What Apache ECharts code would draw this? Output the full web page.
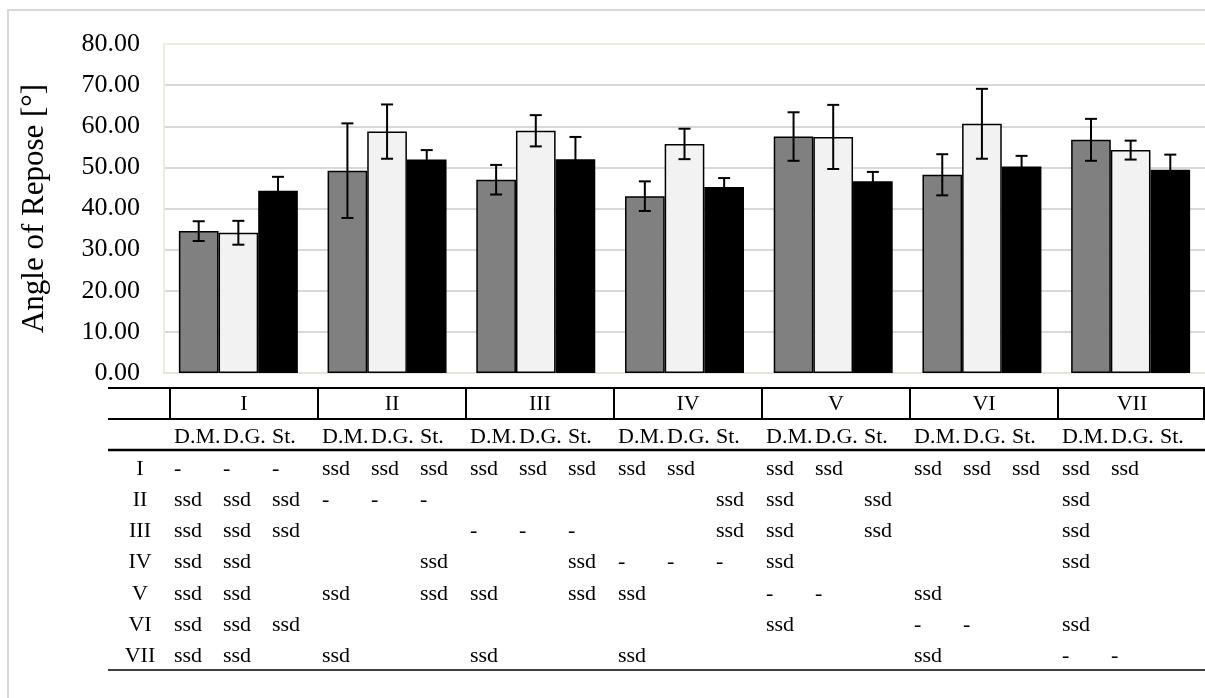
<!DOCTYPE html>
<html>
<head>
<meta charset="utf-8">
<script src="https://cdn.jsdelivr.net/npm/echarts@6/dist/echarts.min.js"></script>
<style>
html, body { margin: 0; padding: 0; background: #fff; }
#chart { width: 1205px; height: 698px; }
</style>
</head>
<body>
<div id="chart"></div>
<script>
// chart data
const groups = ['I', 'II', 'III', 'IV', 'V', 'VI', 'VII'];
const subHeads = ['D.M.', 'D.G.', 'St.'];
const dmMean = [34.5, 49.2, 47.0, 43.0, 57.5, 48.2, 56.7];
const dmErr = [2.4, 11.5, 3.6, 3.6, 5.9, 5.0, 5.1];
const dgMean = [34.1, 58.7, 58.9, 55.7, 57.4, 60.6, 54.2];
const dgErr = [2.9, 6.6, 3.8, 3.7, 7.8, 8.5, 2.3];
const stMean = [44.3, 51.9, 52.0, 45.2, 46.6, 50.2, 49.4];
const stErr = [3.4, 2.3, 5.4, 2.2, 2.3, 2.6, 3.7];

// significance table, one row per group, 3 cells per column group
const sigI   = ['-', '-', '-',  'ssd', 'ssd', 'ssd',  'ssd', 'ssd', 'ssd',  'ssd', 'ssd', '',  'ssd', 'ssd', '',  'ssd', 'ssd', 'ssd',  'ssd', 'ssd', ''];
const sigII  = ['ssd', 'ssd', 'ssd',  '-', '-', '-',  '', '', '',  '', '', 'ssd',  'ssd', '', 'ssd',  '', '', '',  'ssd', '', ''];
const sigIII = ['ssd', 'ssd', 'ssd',  '', '', '',  '-', '-', '-',  '', '', 'ssd',  'ssd', '', 'ssd',  '', '', '',  'ssd', '', ''];
const sigIV  = ['ssd', 'ssd', '',  '', '', 'ssd',  '', '', 'ssd',  '-', '-', '-',  'ssd', '', '',  '', '', '',  'ssd', '', ''];
const sigV   = ['ssd', 'ssd', '',  'ssd', '', 'ssd',  'ssd', '', 'ssd',  'ssd', '', '',  '-', '-', '',  'ssd', '', '',  '', '', ''];
const sigVI  = ['ssd', 'ssd', 'ssd',  '', '', '',  '', '', '',  '', '', '',  'ssd', '', '',  '-', '-', '',  'ssd', '', ''];
const sigVII = ['ssd', 'ssd', '',  'ssd', '', '',  'ssd', '', '',  'ssd', '', '',  '', '', '',  'ssd', '', '',  '-', '-', ''];
const sigRows = [sigI, sigII, sigIII, sigIV, sigV, sigVI, sigVII];

const FONT = '"Liberation Serif", "DejaVu Serif", serif';
const myChart = echarts.init(document.getElementById('chart'));

function errData(mean, err) {
    return mean.map((m, i) => [i, m - err[i], m + err[i]]);
}

function errorSeries(mean, err, idx) {
    return {
        type: 'custom',
        name: subHeads[idx] + ' err',
        z: 5,
        renderItem: (params, api) => {
            const band = api.size([1, 0])[0];
            const bw = band * 0.8 / 3;
            const off = (idx - 1) * bw;
            const lo = api.coord([api.value(0), api.value(1)]);
            const hi = api.coord([api.value(0), api.value(2)]);
            const x = lo[0] + off;
            const cap = 6;
            const style = { stroke: '#000', lineWidth: 2 };
            return {
                type: 'group',
                children: [
                    { type: 'line', shape: { x1: x, y1: lo[1], x2: x, y2: hi[1] }, style },
                    { type: 'line', shape: { x1: x - cap, y1: lo[1], x2: x + cap, y2: lo[1] }, style },
                    { type: 'line', shape: { x1: x - cap, y1: hi[1], x2: x + cap, y2: hi[1] }, style }
                ]
            };
        },
        data: errData(mean, err)
    };
}

// table layout
const tblLeft = 108, tblRight = 1205, colStart = 170, colW = 148, subW = 49;
const lineTop = 388, lineHead = 419, lineSub = 450, lineBottom = 670;
const rowY0 = 469, rowH = 31.2;
const tblFont = 22;

function tableGraphics() {
    const els = [];
    const hline = (y, w) => els.push({ type: 'line', shape: { x1: tblLeft, y1: y, x2: tblRight, y2: y }, style: { stroke: '#000', lineWidth: w } });
    hline(lineTop, 2);
    hline(lineHead, 2);
    hline(lineSub, 2.5);
    hline(lineBottom, 1.5);
    for (let g = 0; g <= groups.length; g++) {
        const x = Math.min(colStart + g * colW, 1204);
        els.push({ type: 'line', shape: { x1: x, y1: lineTop, x2: x, y2: lineHead }, style: { stroke: '#000', lineWidth: 2 } });
    }
    groups.forEach((name, g) => {
        els.push({ type: 'text', x: colStart + g * colW + colW / 2, y: (lineTop + lineHead) / 2 + 1,
            style: { text: name, font: tblFont + 'px ' + FONT, fill: '#000', align: 'center', verticalAlign: 'middle' } });
        subHeads.forEach((s, k) => {
            els.push({ type: 'text', x: colStart + g * colW + 4 + k * subW, y: 437,
                style: { text: s, font: tblFont + 'px ' + FONT, fill: '#000', align: 'left', verticalAlign: 'middle' } });
        });
    });
    sigRows.forEach((row, r) => {
        const y = rowY0 + r * rowH;
        els.push({ type: 'text', x: 140, y: y,
            style: { text: groups[r], font: tblFont + 'px ' + FONT, fill: '#000', align: 'center', verticalAlign: 'middle' } });
        row.forEach((cell, c) => {
            if (!cell) return;
            const g = Math.floor(c / 3), k = c % 3;
            els.push({ type: 'text', x: colStart + g * colW + 4 + k * subW, y: y,
                style: { text: cell, font: tblFont + 'px ' + FONT, fill: '#000', align: 'left', verticalAlign: 'middle' } });
        });
    });
    // outer frame
    els.push({ type: 'rect', shape: { x: 8, y: 10, width: 1400, height: 900 }, style: { fill: 'none', stroke: '#d9d9d9', lineWidth: 2 }, z: -1 });
    return els;
}

const barStyle = (color) => ({ color: color, borderColor: '#000', borderWidth: 1.5 });

const option = {
    animation: false,
    backgroundColor: '#fff',
    grid: { left: 164, top: 44, width: 1050, height: 329 },
    xAxis: {
        type: 'category',
        data: groups,
        axisLabel: { show: false },
        axisTick: { show: false },
        axisLine: { lineStyle: { color: '#e8e6dc', width: 2 } }
    },
    yAxis: {
        type: 'value',
        min: 0,
        max: 80,
        interval: 10,
        name: 'Angle of Repose [°]',
        nameLocation: 'middle',
        nameGap: 114,
        nameTextStyle: { fontFamily: FONT, fontSize: 31, color: '#000' },
        axisLine: { show: true, lineStyle: { color: '#eeece1', width: 2 } },
        axisTick: { show: false },
        axisLabel: {
            fontFamily: FONT, fontSize: 26, color: '#000', margin: 24,
            formatter: (v) => v.toFixed(2)
        },
        splitLine: {
            lineStyle: {
                color: ['#eeece1', '#d9d9d9', '#d9d9d9', '#d9d9d9', '#d9d9d9', '#d9d9d9', '#d9d9d9', '#d9d9d9', '#eeece1'],
                width: 2
            }
        }
    },
    series: [
        { name: 'D.M.', type: 'bar', data: dmMean, barGap: '0%', barCategoryGap: '20%', itemStyle: barStyle('#808080') },
        { name: 'D.G.', type: 'bar', data: dgMean, barGap: '0%', barCategoryGap: '20%', itemStyle: barStyle('#f2f2f2') },
        { name: 'St.', type: 'bar', data: stMean, barGap: '0%', barCategoryGap: '20%', itemStyle: barStyle('#000000') },
        errorSeries(dmMean, dmErr, 0),
        errorSeries(dgMean, dgErr, 1),
        errorSeries(stMean, stErr, 2)
    ],
    graphic: tableGraphics()
};
myChart.setOption(option);
</script>
</body>
</html>
